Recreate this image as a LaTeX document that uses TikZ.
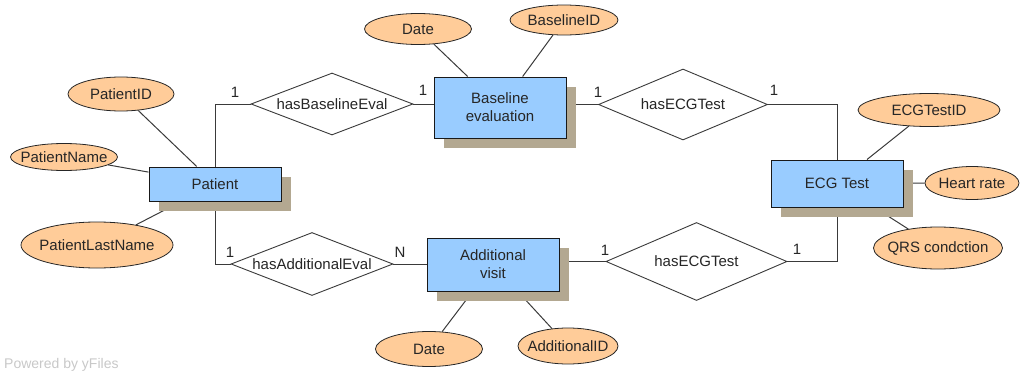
\documentclass[tikz,border=0pt]{standalone}
\usepackage{fontspec}
\setmainfont{Liberation Sans}
\usetikzlibrary{shapes.geometric,shadows}
\pgfdeclarelayer{background}
\pgfsetlayers{background,main}
\definecolor{entfill}{HTML}{99CCFF}
\definecolor{attfill}{HTML}{FFCC99}
\definecolor{shadowc}{HTML}{B3A891}
\definecolor{linec}{HTML}{3A3A3A}
\definecolor{wmark}{HTML}{C8C8C8}
\tikzset{
  every node/.style={font=\fontsize{15}{18}\selectfont, text=black!85},
  entity/.style={draw=black!90, line width=1pt, fill=entfill, inner sep=0pt, align=center,
     general shadow={fill=shadowc, shadow xshift=10pt, shadow yshift=-10pt}},
  attr/.style={draw=black!85, line width=0.8pt, fill=attfill, ellipse, inner sep=0pt, label=center:{#1}},
  rel/.style={draw=linec, line width=0.9pt, fill=white, diamond, inner sep=0pt, label=center:{#1}},
  card/.style={inner sep=0pt},
  conn/.style={draw=linec, line width=1pt},
}
\begin{document}
\begin{tikzpicture}[x=1pt,y=-1pt]
\useasboundingbox (0,0) rectangle (1021,372);
% entities
\node[entity, minimum width=132pt, minimum height=34pt] (patient) at (215,184) {Patient};
\node[entity, minimum width=132pt, minimum height=61pt] (base) at (500,107.5) {Baseline\\evaluation};
\node[entity, minimum width=132pt, minimum height=47pt] (ecg) at (837,183.5) {ECG Test};
\node[entity, minimum width=132pt, minimum height=53pt] (add) at (493,264.5) {Additional\\visit};
% relationships
\node[rel=hasBaselineEval, minimum width=162pt, minimum height=62pt] (r1) at (332,104) {};
\node[rel=hasAdditionalEval, minimum width=162pt, minimum height=63pt] (r2) at (312,264) {};
\node[rel=hasECGTest, minimum width=169pt, minimum height=71pt] (r3) at (683,104.5) {};
\node[rel=hasECGTest, minimum width=181pt, minimum height=78pt] (r4) at (696.5,261.5) {};
% attributes
\node[attr=PatientID, minimum width=106pt, minimum height=34pt] (pid) at (121,94) {};
\node[attr=PatientName, minimum width=107pt, minimum height=27pt] (pname) at (64,157) {};
\node[attr=PatientLastName, minimum width=152pt, minimum height=46pt] (plast) at (97,245) {};
\node[attr=Date, minimum width=107pt, minimum height=31pt] (bdate) at (418,29) {};
\node[attr=BaselineID, minimum width=108pt, minimum height=30pt] (bid) at (564,20) {};
\node[attr=ECGTestID, minimum width=142pt, minimum height=33pt] (eid) at (929,110) {};
\node[attr=Heart rate, minimum width=94pt, minimum height=33pt] (hr) at (972,183) {};
\node[attr=QRS condction, minimum width=129pt, minimum height=42pt] (qrs) at (938,248) {};
\node[attr=Date, minimum width=107pt, minimum height=35pt] (adate) at (429,349) {};
\node[attr=AdditionalID, minimum width=100pt, minimum height=36pt] (aid) at (568,346) {};
% connectors
\begin{pgfonlayer}{background}
\draw[conn] (pid) -- (patient);
\draw[conn] (pname) -- (patient);
\draw[conn] (plast) -- (patient);
\draw[conn] (bdate) -- (base);
\draw[conn] (bid) -- (base);
\draw[conn] (eid) -- (ecg);
\draw[conn] (hr) -- (ecg);
\draw[conn] (qrs) -- (ecg);
\draw[conn] (adate) -- (add);
\draw[conn] (aid) -- (add);
\draw[conn] (r1.west) -| (patient.north);
\draw[conn] (r2.west) -| (patient.south);
\draw[conn] (r1.east) -- (r1.east -| base.west);
\draw[conn] (base.east |- r3.west) -- (r3.west);
\draw[conn] (r3.east) -| (ecg.north);
\draw[conn] (r2.east) -- (r2.east -| add.west);
\draw[conn] (add.east |- r4.west) -- (r4.west);
\draw[conn] (r4.east) -| (ecg.south);
\end{pgfonlayer}
% cardinalities
\node[card] (c1) at (235,92) {1};
\node[card] (c2) at (423,90) {1};
\node[card] (c3) at (598,92) {1};
\node[card] (c4) at (774,90) {1};
\node[card] (c5) at (230,252) {1};
\node[card] (c6) at (400,252) {N};
\node[card] (c7) at (605,250) {1};
\node[card] (c8) at (797,249) {1};
% watermark
\node[anchor=west, inner sep=0pt, font=\fontsize{14}{16}\selectfont, text=wmark] (wm) at (4,365) {Powered by yFiles};
\end{tikzpicture}
\end{document}
